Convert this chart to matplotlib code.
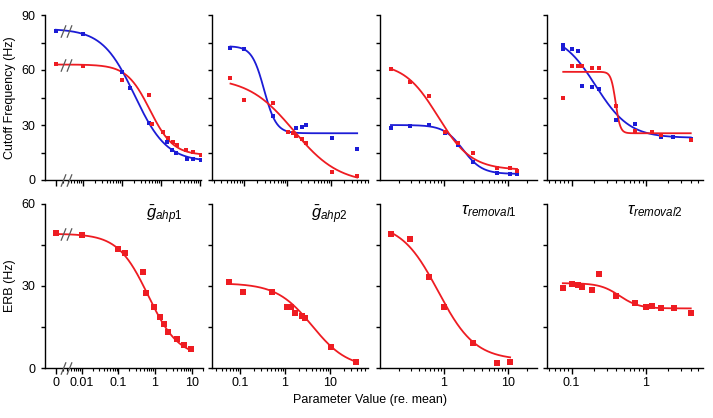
import numpy as np
import matplotlib
matplotlib.use('Agg')
import matplotlib.pyplot as plt
from matplotlib.path import Path
from matplotlib.ticker import FixedLocator, NullFormatter, LogLocator

plt.rcParams['font.family'] = ['Liberation Sans', 'DejaVu Sans']
plt.rcParams['mathtext.fontset'] = 'custom'
plt.rcParams['mathtext.rm'] = 'Liberation Sans'
plt.rcParams['mathtext.it'] = 'Liberation Sans:italic'

BLUE = '#1c1cd6'
RED = '#ee1c22'

# ---- data (parameter value re. mean; 0 = the broken-axis "0") ----
# Cutoff frequency (Hz), top row
cf_gahp1_blue_x = [0, 0.01, 0.1, 0.16, 0.5, 1.4, 1.9, 2.5, 4.6, 6.8, 10.7]
cf_gahp1_blue_y = [81.4, 79.6, 58.7, 50.2, 31.3, 20.7, 16.4, 14.7, 11.6, 11.2, 10.8]
cf_gahp1_red_x = [0, 0.01, 0.1, 0.5, 0.6, 1.16, 1.53, 2.0, 2.6, 4.5, 6.8, 10.7]
cf_gahp1_red_y = [63.1, 62.4, 54.7, 46.2, 30.7, 26.2, 23.1, 21.0, 19.1, 16.4, 15.4, 13.9]

cf_gahp2_blue_x = [0.049, 0.1, 0.46, 1.57, 2.2, 2.66, 10.4, 40]
cf_gahp2_blue_y = [71.8, 71.3, 34.9, 28.2, 29.1, 29.8, 22.9, 17.1]
cf_gahp2_red_x = [0.049, 0.1, 0.46, 1.04, 1.32, 1.57, 2.2, 2.66, 10.4, 40]
cf_gahp2_red_y = [55.5, 43.6, 41.8, 26.2, 25.5, 24.2, 22.5, 20.0, 4.4, 2.0]

cf_rem1_blue_x = [0.147, 0.29, 0.59, 1.04, 1.63, 2.88, 6.9, 10.9, 14]
cf_rem1_blue_y = [28.2, 29.5, 30.0, 25.8, 19.1, 10.0, 3.6, 3.3, 3.3]
cf_rem1_red_x = [0.147, 0.29, 0.59, 1.04, 1.63, 2.88, 6.9, 10.9, 14]
cf_rem1_red_y = [60.5, 53.6, 45.8, 26.4, 20.0, 14.5, 6.5, 6.5, 4.7]

cf_rem2_blue_x = [0.077, 0.077, 0.1, 0.12, 0.139, 0.186, 0.233, 0.39, 0.71, 1.58, 2.33, 4.0]
cf_rem2_blue_y = [73.5, 71.5, 71.3, 70.5, 51.3, 50.9, 49.5, 32.7, 30.4, 23.3, 23.6, 22.6]
cf_rem2_red_x = [0.077, 0.1, 0.12, 0.139, 0.186, 0.233, 0.39, 0.71, 1.19, 1.58, 4.0]
cf_rem2_red_y = [44.9, 62.4, 62.4, 62.2, 61.3, 60.9, 40.6, 27.0, 26.0, 24.5, 21.6]

# ERB (Hz), bottom row
erb_gahp1_x = [0, 0.01, 0.1, 0.15, 0.48, 0.56, 0.93, 1.36, 1.75, 2.2, 3.9, 6.1, 9.4]
erb_gahp1_y = [49.4, 48.7, 43.6, 42.0, 34.9, 27.3, 22.3, 18.5, 16.1, 13.1, 10.7, 8.5, 6.9]
erb_gahp2_x = [0.057, 0.115, 0.51, 1.09, 1.36, 1.67, 2.35, 2.78, 10.5, 37]
erb_gahp2_y = [31.3, 27.9, 27.6, 22.3, 22.3, 20.0, 19.1, 18.4, 7.9, 2.2]
erb_rem1_x = [0.147, 0.29, 0.59, 1.0, 2.88, 6.9, 10.9]
erb_rem1_y = [48.8, 47.0, 33.1, 22.2, 9.3, 2.0, 2.2]
erb_rem2_x = [0.076, 0.1, 0.12, 0.139, 0.186, 0.233, 0.39, 0.71, 1.0, 1.19, 1.58, 2.4, 4.0]
erb_rem2_y = [29.1, 30.8, 30.3, 29.7, 28.5, 34.5, 26.3, 23.9, 22.3, 22.7, 21.8, 21.8, 20.0]

# sigmoid fit lines: (top, bottom, x50, slope, x_start, x_end)
fit_cf_gahp1_blue = (82.5, 10, 0.21, 1.05, 0, 10.7)
fit_cf_gahp1_red = (63, 13.5, 0.52, 1.45, 0, 10.7)
fit_cf_gahp2_blue = (73, 25.5, 0.29, 3.1, 0.049, 40)
fit_cf_gahp2_red = (56, -2, 1.38, 0.83, 0.049, 40)
fit_cf_rem1_blue = (30, 3.3, 1.98, 2.9, 0.147, 14)
fit_cf_rem1_red = (64, 5.5, 0.8, 1.65, 0.147, 14)
fit_cf_rem2_blue = (80, 23, 0.21, 1.9, 0.077, 4.0)
fit_cf_rem2_red = (59, 25.5, 0.39, 14, 0.077, 4.0)
fit_erb_gahp1 = (49, 4, 0.65, 1.05, 0, 9.4)
fit_erb_gahp2 = (31, 0, 4.0, 1.1, 0.057, 37)
fit_erb_rem1 = (53, 3, 0.81, 1.5, 0.147, 10.9)
fit_erb_rem2 = (31, 21.8, 0.44, 3.3, 0.076, 4.0)

titles = [r'$\bar{g}_{ahp\mathrm{1}}$', r'$\bar{g}_{ahp\mathrm{2}}$',
          r'$\tau_{removal1}$', r'$\tau_{removal2}$']

ZERO_POS = 0.002   # where "0" sits on the broken log axis
BREAK_POS = 0.0037

W, H = 713, 418


def rect(l, r, t, b):
    return [l / W, 1 - b / H, (r - l) / W, (b - t) / H]


def xpos(x):
    x = np.asarray(x, dtype=float)
    return np.where(x == 0, ZERO_POS, x)


def fit_line(fit):
    top, bottom, x50, n, lo, hi = fit
    xs = np.logspace(np.log10(xpos([lo])[0]), np.log10(hi), 300)
    return xs, bottom + (top - bottom) / (1 + (xs / x50) ** n)


break_marker = Path([(-2.2, -2.5), (-0.2, 2.5), (0.2, -2.5), (2.2, 2.5)],
                    [Path.MOVETO, Path.LINETO, Path.MOVETO, Path.LINETO])


def style(ax, xlim, ymax, xticks, xlabels):
    ax.set_xscale('log')
    ax.set_xlim(*xlim)
    ax.set_ylim(0, ymax)
    for s in ['top', 'right']:
        ax.spines[s].set_visible(False)
    for s in ['left', 'bottom']:
        ax.spines[s].set_linewidth(1.0)
    ax.yaxis.set_major_locator(FixedLocator(np.arange(0, ymax + 1, 30)))
    ax.yaxis.set_minor_locator(FixedLocator(np.arange(0, ymax + 1, 15)))
    ax.xaxis.set_major_locator(FixedLocator(xticks))
    ax.xaxis.set_minor_locator(LogLocator(base=10, subs=np.arange(2, 10), numticks=20))
    ax.xaxis.set_minor_formatter(NullFormatter())
    if xlabels is None:
        ax.xaxis.set_major_formatter(NullFormatter())
    else:
        ax.set_xticklabels(xlabels)
    ax.tick_params(axis='x', which='major', length=4, width=1, pad=2.5, labelsize=9)
    ax.tick_params(axis='x', which='minor', length=2.2, width=0.8)
    ax.tick_params(axis='y', which='both', length=3, width=1, pad=4, labelsize=9)


fig = plt.figure(figsize=(W / 100, H / 100), dpi=100)

top_rects = [rect(45, 201, 15, 180), rect(212.3, 368, 15, 180),
             rect(380, 536.7, 15, 180), rect(547.3, 703.3, 15, 180)]
bot_rects = [rect(45, 203, 203.5, 368.3), rect(212.3, 367.7, 203.5, 368.3),
             rect(380, 536.7, 203.5, 368.3), rect(547.3, 703.3, 203.5, 368.3)]
top_xlims = [(0.00105, 10.7), (0.0187, 71), (0.099, 28.5), (0.047, 5.9)]
bot_xlims = [(0.001, 20.3), (0.0242, 68.8), (0.099, 28.5), (0.047, 5.9)]
xtick_sets = [[ZERO_POS, 0.01, 0.1, 1, 10], [0.1, 1, 10], [1, 10], [0.1, 1]]
xtick_labels = [['0', '0.01', '0.1', '1', '10'], ['0.1', '1', '10'], ['1', '10'], ['0.1', '1']]

top_series = [
    [(cf_gahp1_blue_x, cf_gahp1_blue_y, fit_cf_gahp1_blue, BLUE),
     (cf_gahp1_red_x, cf_gahp1_red_y, fit_cf_gahp1_red, RED)],
    [(cf_gahp2_blue_x, cf_gahp2_blue_y, fit_cf_gahp2_blue, BLUE),
     (cf_gahp2_red_x, cf_gahp2_red_y, fit_cf_gahp2_red, RED)],
    [(cf_rem1_blue_x, cf_rem1_blue_y, fit_cf_rem1_blue, BLUE),
     (cf_rem1_red_x, cf_rem1_red_y, fit_cf_rem1_red, RED)],
    [(cf_rem2_blue_x, cf_rem2_blue_y, fit_cf_rem2_blue, BLUE),
     (cf_rem2_red_x, cf_rem2_red_y, fit_cf_rem2_red, RED)],
]
bot_series = [(erb_gahp1_x, erb_gahp1_y, fit_erb_gahp1),
              (erb_gahp2_x, erb_gahp2_y, fit_erb_gahp2),
              (erb_rem1_x, erb_rem1_y, fit_erb_rem1),
              (erb_rem2_x, erb_rem2_y, fit_erb_rem2)]

for i in range(4):
    # top row: cutoff frequency
    ax = fig.add_axes(top_rects[i])
    for xs, ys, fit, c in top_series[i]:
        fx, fy = fit_line(fit)
        ax.plot(fx, fy, color=c, lw=1.3, zorder=2)
        ax.plot(xpos(xs), ys, 's', color=c, ms=2.8, mew=0, zorder=3)
    style(ax, top_xlims[i], 90, xtick_sets[i], None)
    if i == 0:
        ax.set_ylabel('Cutoff Frequency (Hz)', fontsize=9, labelpad=4)
        for _, _, fit, _ in top_series[0]:
            fx, fy = fit_line((*fit[:4], BREAK_POS, BREAK_POS * 1.0001))
            ax.plot(fx[:1], fy[:1], marker=break_marker, ms=9, color='0.35', mew=0.9, zorder=4)
        ax.plot([BREAK_POS], [0], marker=break_marker, ms=9, color='0.35', mew=0.9,
                clip_on=False, zorder=4)
    else:
        ax.yaxis.set_major_formatter(NullFormatter())

    # bottom row: ERB
    ax = fig.add_axes(bot_rects[i])
    xs, ys, fit = bot_series[i]
    fx, fy = fit_line(fit)
    ax.plot(fx, fy, color=RED, lw=1.3, zorder=2)
    ax.plot(xpos(xs), ys, 's', color=RED, ms=4.6, mew=0, zorder=3)
    style(ax, bot_xlims[i], 60, xtick_sets[i], xtick_labels[i])
    ax.text(0.87, 1.0, titles[i], transform=ax.transAxes, ha='right', va='top', fontsize=12)
    if i == 0:
        ax.set_ylabel('ERB (Hz)', fontsize=9, labelpad=4)
        fx, fy = fit_line((*fit[:4], BREAK_POS, BREAK_POS * 1.0001))
        ax.plot(fx[:1], fy[:1], marker=break_marker, ms=9, color='0.35', mew=0.9, zorder=4)
        ax.plot([BREAK_POS], [0], marker=break_marker, ms=9, color='0.35', mew=0.9,
                clip_on=False, zorder=4)
    else:
        ax.yaxis.set_major_formatter(NullFormatter())

fig.text(0.519, 0.043, 'Parameter Value (re. mean)', ha='center', va='center', fontsize=9)

fig.savefig('out.png', dpi=100)
